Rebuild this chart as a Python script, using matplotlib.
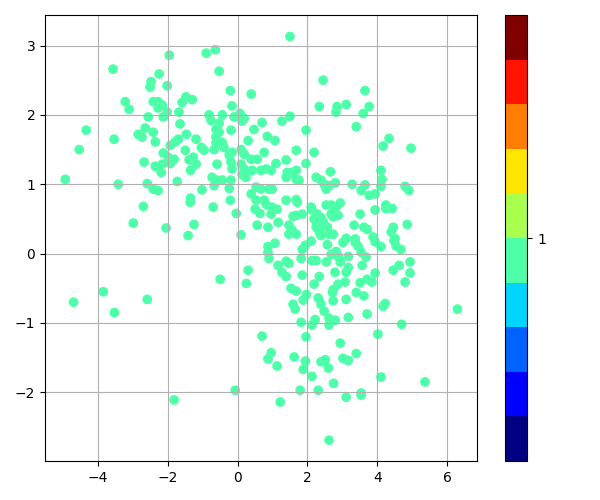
import numpy as np
import matplotlib
matplotlib.use('Agg')
import matplotlib.pyplot as plt

# points, grouped by area of the plot
left_x = [-4.94, -4.70, -4.54, -4.34, -3.85, -3.57, -3.53, -3.54, -3.42, -3.22, -3.11, -2.99,
          -2.85, -2.74, -2.70, -2.68, -2.65, -2.59, -2.59, -2.56, -2.51, -2.48, -2.42, -2.42,
          -2.42, -2.36, -2.36, -2.28, -2.28, -2.28, -2.25, -2.19, -2.16, -2.16, -2.13, -2.13,
          -2.05, -2.02, -2.02, -1.99, -1.96, -1.93, -1.93, -1.82, -1.82, -1.79, -1.73, -1.70,
          -1.68, -1.65, -1.59, -1.50, -1.48, -1.47, -1.35, -1.35, -1.36, -1.42, -1.30, -1.19,
          -1.27, -1.39, -1.19, -1.25]
left_y = [1.07, -0.70, 1.50, 1.78, -0.55, 2.66, -0.85, 1.65, 1.00, 2.19, 2.08, 0.44,
          1.72, 1.68, 0.68, 1.32, 1.81, 1.01, -0.66, 1.97, 2.40, 2.48, 0.93, 2.19,
          1.75, 1.26, 1.61, 0.91, 2.19, 2.10, 2.59, 1.17, 1.29, 2.14, 1.45, 1.97,
          0.37, 2.42, 2.04, 1.39, 2.86, 1.30, 1.56, 1.36, -2.11, 1.61, 1.04, 1.65,
          2.04, 1.87, 2.18, 1.49, 2.26, 1.72, 1.20, 0.80, 0.74, 0.26, 2.22, 1.65,
          1.39, 1.35, 1.29, 0.42]

mid_x = [-0.62, -0.53, -0.62, -0.19, 0.47, 0.85, 1.07, 1.96, -1.04, -0.96, -0.62, -0.44,
         -0.39, -0.67, -0.16, -0.24, 0.10, 0.19, 0.30, 0.76, 1.68, 2.19, -0.59, -0.19,
         -0.16, 0.10, 0.19, 0.13, 0.24, 0.39, 0.56, 0.42, 0.67, 0.82, 0.96, 1.10,
         1.39, 1.42, 1.53, 1.68, 1.39, 1.68, 1.76, 1.96, 2.25, 2.39, 2.48, 2.54,
         2.62, -0.73, -0.59, -0.44, -0.19, -0.67, -0.24, -1.02, 0.53, 0.67, 0.90, 0.99,
         0.39, 0.53, 0.76, -0.21, -0.70, -0.04, 0.82, 0.99, 0.96, 1.13, 0.50, 0.64,
         1.16, 1.39, 1.68, 1.71, 1.59, 1.68, 1.85, 0.56, 0.87, 1.47, 1.56, 1.47,
         1.68, 0.10, 2.11, 2.13, 2.28, 2.39, 2.42, 2.48, 2.19, 2.28, 2.54, 2.68,
         2.68, 2.25, 2.34, 2.57, 2.62, 2.39]
mid_y = [1.79, 1.75, 1.68, 1.78, 1.79, 1.69, 1.63, 1.78, 1.53, 1.49, 1.60, 1.60,
         1.53, 1.50, 1.46, 1.42, 1.50, 1.43, 1.63, 1.46, 1.49, 1.46, 1.29, 1.32,
         1.22, 1.29, 1.22, 1.14, 1.10, 1.36, 1.36, 1.20, 1.20, 1.22, 1.20, 1.30,
         1.35, 1.17, 1.17, 1.20, 1.10, 1.07, 1.06, 1.30, 1.10, 1.06, 1.00, 0.93,
         0.98, 1.10, 1.06, 1.06, 1.06, 0.98, 0.94, 0.92, 0.96, 0.93, 0.93, 0.93,
         0.86, 0.77, 0.77, 0.77, 0.67, 0.58, 0.71, 0.67, 0.57, 0.64, 0.64, 0.58,
         0.45, 0.77, 0.78, 0.74, 0.54, 0.55, 0.57, 0.41, 0.38, 0.41, 0.34, 0.28,
         0.28, 0.27, 0.67, 0.63, 0.57, 0.52, 0.48, 0.42, 0.50, 0.42, 0.70, 0.70,
         0.57, 0.38, 0.31, 0.38, 0.28, 0.26]

top_x = [-0.90, -0.64, -0.53, 2.45, -0.21, 0.39, -0.16, 2.34, -0.82, -0.44, -0.76, -0.53,
         -0.10, 0.07, 0.19, 0.13, 0.70, 1.27, 1.50, 1.50, 3.65, 3.11, 2.85, 2.82,
         3.77, 3.60, 3.40]
top_y = [2.89, 2.94, 2.63, 2.50, 2.35, 2.30, 2.13, 2.12, 2.00, 2.00, 1.92, 1.88,
         1.97, 2.02, 1.95, 1.91, 1.89, 1.91, 1.98, 3.13, 2.35, 2.15, 2.12, 2.04,
         2.12, 2.02, 1.83]

right_x = [4.34, 4.17, 4.97, 4.11, 4.14, 4.11, 2.66, 2.80, 3.28, 3.65, 3.54, 3.77,
           3.94, 4.80, 4.91, 2.94, 2.82, 2.88, 2.74, 3.51, 3.94, 4.25, 4.25, 4.43,
           3.34, 3.62, 3.71, 4.46, 4.40, 4.86, 2.74, 3.11, 3.37, 3.88, 4.51]
right_y = [1.66, 1.55, 1.52, 1.20, 1.07, 0.97, 1.18, 1.02, 1.00, 0.99, 0.91, 0.84,
           0.86, 0.97, 0.91, 0.73, 0.67, 0.55, 0.53, 0.57, 0.63, 0.70, 0.65, 0.65,
           0.41, 0.38, 0.35, 0.38, 0.31, 0.42, 0.28, 0.22, 0.21, 0.24, 0.22]

low_right_x = [6.30, 4.70, 4.02, 2.94, 4.23, 4.17, 3.71, 3.17, 2.80, 4.94, 4.94, 4.80,
               4.63, 4.46, 3.94, 3.85, 3.71, 3.51, 3.62, 3.40, 3.11, 2.74, 2.74, 3.08,
               2.88, 3.57, 3.68, 3.54, 4.54, 4.68, 4.48, 4.11, 3.94, 3.02, 3.37, 3.45,
               2.82, 3.17, 2.94, 2.88, 3.17, 3.11, 2.79]
low_right_y = [-0.80, -1.02, -1.16, -1.29, -0.72, -0.76, -0.87, -0.92, -0.96, -0.12, -0.28, -0.41,
               -0.17, -0.24, -0.28, -0.41, -0.37, -0.42, -0.61, -0.56, -0.66, -0.52, -0.68, -0.41,
               -0.44, -0.17, -0.05, 0.02, 0.11, 0.06, 0.19, 0.10, 0.17, 0.16, 0.16, 0.11,
               0.03, -0.04, -0.12, -0.04, -0.20, -0.27, -0.27]

low_mid_x = [-0.50, 0.30, 0.25, 0.70, 0.96, 1.96, 1.82, 2.13, 2.22, 2.62, 2.62, 1.59,
             1.65, 1.53, 1.68, 1.88, 1.97, 2.31, 2.39, 2.48, 2.19, 2.34, 1.85, 1.27,
             1.39, 1.16, 1.39, 1.47, 1.82, 0.90, 0.87, 0.87, 1.07, 2.13, 2.25, 2.54,
             1.85, 1.94, 2.11, 2.57, 2.68, 2.72]
low_mid_y = [-0.37, -0.24, -0.43, -1.19, -1.43, -1.20, -0.99, -1.03, -0.95, -0.93, -1.03, -0.73,
             -0.80, -0.50, -0.54, -0.67, -0.59, -0.64, -0.73, -0.83, -0.44, -0.33, -0.31, -0.27,
             -0.33, -0.17, -0.11, -0.14, -0.07, -0.07, 0.02, 0.10, 0.15, -0.10, -0.10, -0.12,
             0.06, 0.12, 0.18, 0.13, -0.01, -0.56]

bottom_x = [0.87, 1.13, 1.62, 1.94, 1.88, 2.13, 2.39, 2.51, 2.60, 2.75, -0.07, 1.79,
            2.31, 1.22, 2.62, 3.40, 3.02, 3.17, 4.11, 5.37, 3.11, 3.54, 3.54]
bottom_y = [-1.52, -1.62, -1.49, -1.55, -1.67, -1.77, -1.56, -1.53, -1.65, -1.87, -1.97, -1.97,
            -1.97, -2.14, -2.69, -1.44, -1.51, -1.54, -1.78, -1.85, -2.07, -2.04, -2.01]

x = np.array(left_x + mid_x + top_x + right_x + low_right_x + low_mid_x + bottom_x)
y = np.array(left_y + mid_y + top_y + right_y + low_right_y + low_mid_y + bottom_y)
labels = [1] * len(x)   # every point belongs to cluster 1

fig = plt.figure(figsize=(6, 5), dpi=100)
ax = fig.add_axes([0.075, 0.078, 0.72, 0.892])
cax = fig.add_axes([0.842, 0.078, 0.037, 0.892])

sc = ax.scatter(x, y, c=labels, cmap=plt.get_cmap('jet', 10))
ax.grid(True)
ax.set_xlim(-5.52, 6.86)
ax.set_ylim(-2.99, 3.44)
ax.set_xticks([-4, -2, 0, 2, 4, 6])
ax.set_yticks([-2, -1, 0, 1, 2, 3])

fig.colorbar(sc, cax=cax, ticks=[1])

plt.savefig('out.png', format='png')
plt.close('all')
